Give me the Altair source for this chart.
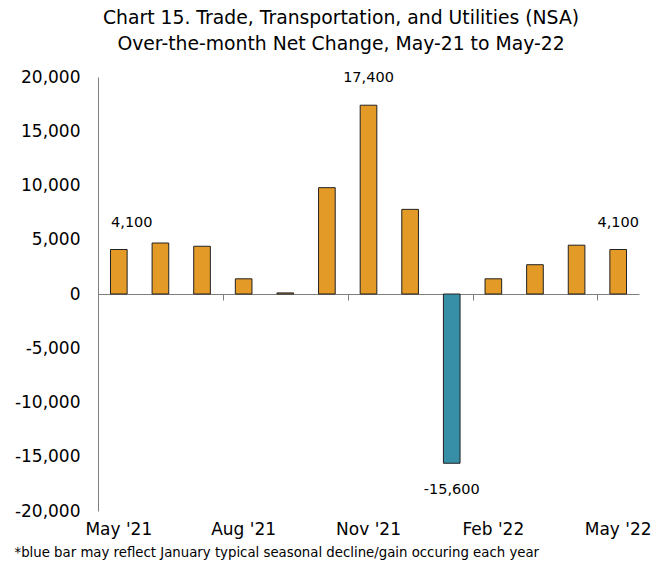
import altair as alt
import pandas as pd

months = ["May '21", "Jun '21", "Jul '21", "Aug '21", "Sep '21", "Oct '21", "Nov '21",
          "Dec '21", "Jan '22", "Feb '22", "Mar '22", "Apr '22", "May '22"]
values = [4100, 4700, 4400, 1400, 100, 9800, 17400, 7800, -15600, 1400, 2700, 4500, 4100]
is_blue = [False, False, False, False, False, False, False, False, True, False, False, False, False]
show_label = [True, False, False, False, False, False, True, False, True, False, False, False, True]
tick_months = ["May '21", "Aug '21", "Nov '21", "Feb '22", "May '22"]
y_ticks = [-20000, -15000, -10000, -5000, 0, 5000, 10000, 15000, 20000]
title_lines = ["Chart 15. Trade, Transportation, and Utilities (NSA)",
               "Over-the-month Net Change, May-21 to May-22"]
footnote = "*blue bar may reflect January typical seasonal decline/gain occuring each year"

df = pd.DataFrame({"month": months, "value": values, "blue": is_blue, "show": show_label,
                   "idx": list(range(len(months)))})
df["group"] = df["blue"].map({True: "blue", False: "orange"})

FONT = "DejaVu Sans"
W, H = 541, 434
STEP = W / (len(months) - 0.6 + 0.6)

xscale = alt.Scale(domain=months, paddingInner=0.6, paddingOuter=0.3)
yscale = alt.Scale(domain=[-20000, 20000], nice=False)

bars = alt.Chart(df).mark_bar(stroke="#222222", strokeWidth=1).encode(
    x=alt.X("month:N", sort=months, scale=xscale,
            axis=alt.Axis(orient="bottom", offset=-H / 2, labels=False, title=None,
                          values=tick_months, tickOffset=-STEP / 2, tickSize=6,
                          tickColor="#7f7f7f", domainColor="#7f7f7f", tickWidth=1)),
    y=alt.Y("value:Q", scale=yscale,
            axis=alt.Axis(values=y_ticks, format=",.0f", ticks=False, grid=False, title=None,
                          labelFontSize=17, labelFont=FONT, labelColor="#000000",
                          labelExpr="replace(format(datum.value, ',.0f'), '\u2212', '-')",
                          labelPadding=18, domainColor="#7f7f7f")),
    color=alt.Color("group:N", scale=alt.Scale(domain=["orange", "blue"],
                                               range=["#E39A27", "#378FA7"]), legend=None),
)

lab = alt.Chart(df).transform_filter("datum.show").transform_calculate(
    txt="replace(format(datum.value, ',.0f'), '\u2212', '-')")
text_pos = lab.transform_filter("datum.value >= 0 && datum.idx > 0").mark_text(
    dy=-27, fontSize=14.5, font=FONT, color="#000000").encode(
    x=alt.X("month:N", sort=months, scale=xscale,
            axis=alt.Axis(orient="bottom", domain=False, ticks=False, values=tick_months,
                          labelFontSize=17, labelFont=FONT, labelColor="#000000",
                          labelPadding=10, labelAngle=0,
                          title=footnote, titleFontSize=13.3, titleFont=FONT,
                          titleFontWeight="normal", titleColor="#000000",
                          titleAnchor="start", titleAlign="left", titleBaseline="middle",
                          titleX=-84, titleY=41)),
    y=alt.Y("value:Q", scale=yscale, axis=None),
    text=alt.Text("txt:N"),
)
text_first = lab.transform_filter("datum.idx == 0").mark_text(
    dy=-27, dx=13, fontSize=14.5, font=FONT, color="#000000").encode(
    x=alt.X("month:N", sort=months, scale=xscale, axis=None),
    y=alt.Y("value:Q", scale=yscale, axis=None),
    text=alt.Text("txt:N"),
)
text_neg = lab.transform_filter("datum.value < 0").mark_text(
    dy=27, fontSize=14.5, font=FONT, color="#000000").encode(
    x=alt.X("month:N", sort=months, scale=xscale, axis=None),
    y=alt.Y("value:Q", scale=yscale, axis=None),
    text=alt.Text("txt:N"),
)

chart = alt.layer(bars, text_pos, text_first, text_neg).resolve_axis(
    x="independent", y="independent").properties(
    width=W, height=H,
    autosize=alt.AutoSizeParams(type="none"),
    padding={"left": 90, "top": 69, "right": 20, "bottom": 50},
    title=alt.TitleParams(title_lines, fontSize=18.8, font=FONT, fontWeight="normal",
                          color="#000000", lineHeight=26, anchor="middle", dx=-27.5, offset=14),
).configure_view(stroke=None)

chart.save("out.html", embed_options={"renderer": "svg", "actions": False})
